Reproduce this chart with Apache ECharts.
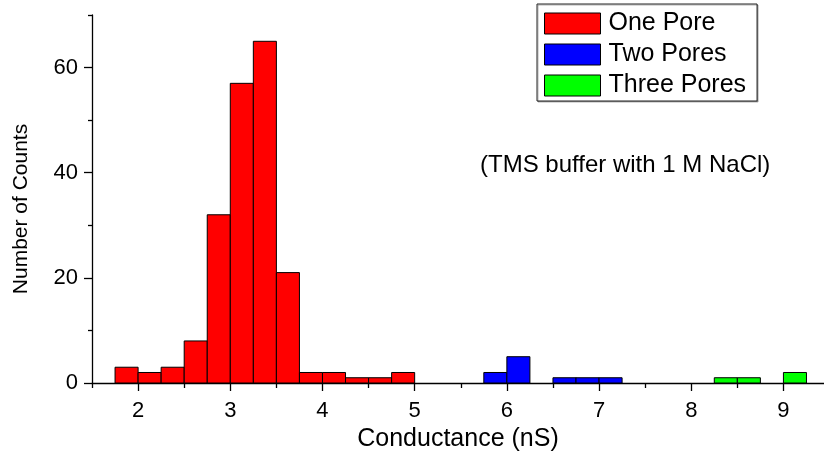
<!DOCTYPE html>
<html>
<head>
<meta charset="utf-8">
<script src="https://cdn.jsdelivr.net/npm/echarts@6/dist/echarts.min.js"></script>
<style>
html,body{margin:0;padding:0;background:#fff;}
#chart{width:824px;height:453px;}
</style>
</head>
<body>
<div id="chart"></div>
<script>
// ---- data ----
var binWidth = 0.25;
var onePoreBins = [1.75, 2.0, 2.25, 2.5, 2.75, 3.0, 3.25, 3.5, 3.75, 4.0, 4.25, 4.5, 4.75];
var onePoreCounts = [3, 2, 3, 8, 32, 57, 65, 21, 2, 2, 1, 1, 2];
var twoPoresBins = [5.75, 6.0, 6.5, 6.75, 7.0];
var twoPoresCounts = [2, 5, 1, 1, 1];
var threePoresBins = [8.25, 8.5, 9.0];
var threePoresCounts = [1, 1, 2];
var xTickLabels = [2, 3, 4, 5, 6, 7, 8, 9];
var xMinorTicks = [1.5, 2.5, 3.5, 4.5, 5.5, 6.5, 7.5, 8.5];
var yTickLabels = [0, 20, 40, 60];
var yMinorTicks = [10, 30, 50, 70];
var seriesNames = ['One Pore', 'Two Pores', 'Three Pores'];
var seriesColors = ['#ff0000', '#0000ff', '#00ff00'];
var xAxisTitle = 'Conductance (nS)';
var yAxisTitle = 'Number of Counts';
var noteText = '(TMS buffer with 1 M NaCl)';

var FONT = '"Liberation Sans", Arial, sans-serif';

function pairs(bins, counts) {
  return bins.map(function (b, i) { return [b, counts[i]]; });
}

function makeSeries(name, color, data) {
  return {
    name: name,
    type: 'custom',
    xAxisIndex: 0,
    yAxisIndex: 0,
    itemStyle: { color: color, borderColor: '#000', borderWidth: 1 },
    encode: { x: 0, y: 1 },
    data: data,
    renderItem: function (params, api) {
      var x0 = api.value(0);
      var v = api.value(1);
      var pTop = api.coord([x0, v]);
      var pBot = api.coord([x0 + binWidth, 0]);
      return {
        type: 'rect',
        shape: { x: pTop[0], y: pTop[1], width: pBot[0] - pTop[0], height: pBot[1] - pTop[1] },
        style: { fill: color, stroke: '#000', lineWidth: 1 }
      };
    }
  };
}

var chart = echarts.init(document.getElementById('chart'), null, { renderer: 'canvas' });

var option = {
  animation: false,
  backgroundColor: '#fff',
  grid: { left: 92, right: 0, top: 15, bottom: 70, containLabel: false, outerBoundsMode: 'none' },
  xAxis: [
    {
      type: 'value', min: 1.5, max: 9.44,
      position: 'bottom',
      splitLine: { show: false },
      axisLine: { show: true, onZero: false, lineStyle: { color: '#000', width: 1.3 } },
      axisTick: { show: true, inside: false, length: 8, customValues: xTickLabels, lineStyle: { color: '#000', width: 1.3 } },
      axisLabel: { show: true, customValues: xTickLabels, margin: 17, color: '#000', fontSize: 22, fontFamily: FONT },
      name: xAxisTitle,
      nameLocation: 'middle',
      nameGap: 37,
      nameTextStyle: { color: '#000', fontSize: 25, fontFamily: FONT }
    },
    {
      type: 'value', min: 1.5, max: 9.44,
      position: 'bottom',
      splitLine: { show: false },
      axisLine: { show: false, onZero: false },
      axisTick: { show: true, inside: false, length: 5, customValues: xMinorTicks, lineStyle: { color: '#000', width: 1.3 } },
      axisLabel: { show: false }
    }
  ],
  yAxis: [
    {
      type: 'value', min: 0, max: 70,
      position: 'left',
      splitLine: { show: false },
      axisLine: { show: true, onZero: false, lineStyle: { color: '#000', width: 1.3 } },
      axisTick: { show: true, inside: false, length: 8, customValues: yTickLabels, lineStyle: { color: '#000', width: 1.3 } },
      axisLabel: { show: true, customValues: yTickLabels, margin: 14, color: '#000', fontSize: 22, fontFamily: FONT },
      name: yAxisTitle,
      nameLocation: 'middle',
      nameGap: 60,
      nameRotate: 90,
      nameTextStyle: { color: '#000', fontSize: 21, fontFamily: FONT, padding: [0, 20, 0, 0] }
    },
    {
      type: 'value', min: 0, max: 70,
      position: 'left',
      splitLine: { show: false },
      axisLine: { show: false, onZero: false },
      axisTick: { show: true, inside: false, length: 4, customValues: yMinorTicks, lineStyle: { color: '#000', width: 1.3 } },
      axisLabel: { show: false }
    }
  ],
  legend: {
    show: true,
    orient: 'vertical',
    left: 537,
    top: 4,
    data: seriesNames,
    backgroundColor: '#fff',
    borderColor: '#222',
    borderWidth: 1,
    borderRadius: 0,
    shadowColor: 'rgba(0,0,0,0.3)',
    shadowBlur: 0,
    shadowOffsetX: 1,
    shadowOffsetY: 1,
    padding: [7, 11, 3, 7],
    itemWidth: 56,
    itemHeight: 21,
    itemGap: 6,
    icon: 'rect',
    itemStyle: { borderColor: '#000', borderWidth: 1 },
    textStyle: { color: '#000', fontSize: 25, fontFamily: FONT, padding: [0, 0, 0, 3] },
    selectedMode: false
  },
  graphic: [
    {
      type: 'text',
      left: 480,
      top: 153,
      style: { text: noteText, fill: '#000', font: '24px ' + FONT }
    }
  ],
  series: [
    makeSeries(seriesNames[0], seriesColors[0], pairs(onePoreBins, onePoreCounts)),
    makeSeries(seriesNames[1], seriesColors[1], pairs(twoPoresBins, twoPoresCounts)),
    makeSeries(seriesNames[2], seriesColors[2], pairs(threePoresBins, threePoresCounts))
  ]
};

chart.setOption(option);
</script>
</body>
</html>
